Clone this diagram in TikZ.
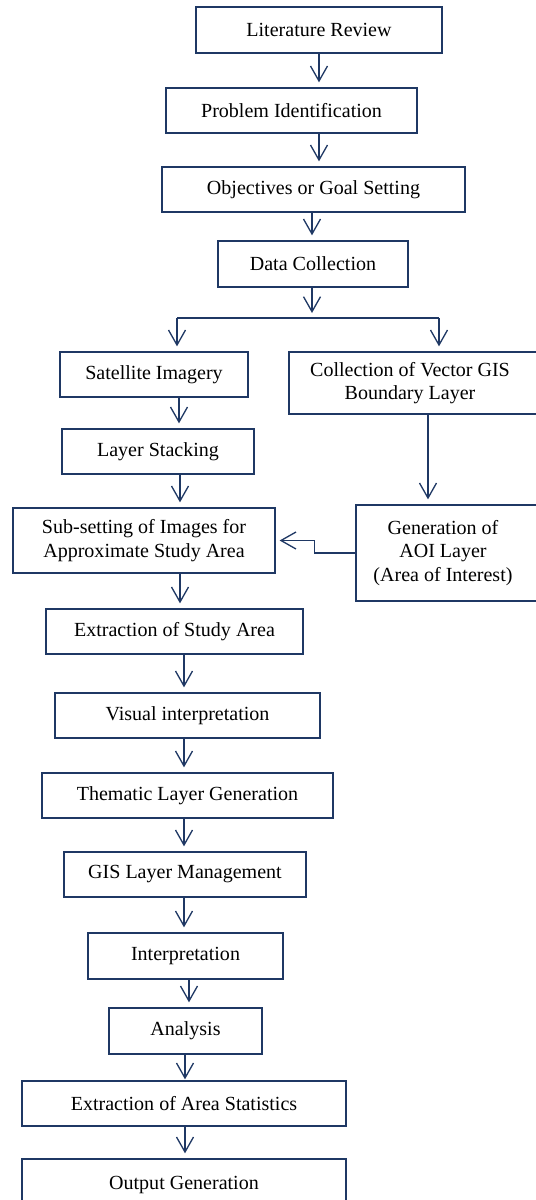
\documentclass[tikz,border=0pt]{standalone}
\usepackage{fontspec}
\setmainfont{Liberation Serif}
\usetikzlibrary{
    arrows.meta,
    positioning
}
\definecolor{flowblue}{RGB}{31,56,100}
\tikzset{
    process/.style = {
        rectangle,
        draw=flowblue,
        line width=0.75pt,
        inner sep=0pt,
        align=center,
        font=\fontsize{11.4}{13.3}\selectfont
    },
    wh/.style 2 args = {
        minimum width=#1*0.02cm,
        minimum height=#2*0.02cm
    },
    boxtext/.style = {
        inner sep=0pt,
        align=center,
        font=\fontsize{11.4}{13.3}\selectfont
    },
    connector/.style = {
        draw=flowblue,
        line width=0.75pt
    },
    arrow/.style = {
        connector,
        -{Straight Barb[length=0.3cm,width=0.34cm]},
        shorten >=0.1cm
    }
}

\begin{document}
\begin{tikzpicture}[x=0.02cm, y=-0.02cm]
\useasboundingbox (0,0) rectangle (536,1200);
\clip (0,0) rectangle (536,1200);

% main chain
\node[process, wh={246}{46}] (lit)    at (319,30)    {Literature Review};
\node[process, wh={251}{45}] (prob)   at (291.5,110.5) {Problem Identification};
\node[process, wh={303}{45}] (obj)    at (313.5,189.5) {Objectives or Goal Setting};
\node[process, wh={190}{46}] (data)   at (313,264)   {Data Collection};

% two branches (right boxes run off the page)
\node[process, wh={188}{45}] (sat)    at (154,374.5) {Satellite Imagery};
\node[process, wh={256}{62}] (vec)    at (417,383)   {};
\node[boxtext] (vectext) at (410,383) {Collection of Vector GIS\\Boundary Layer};
\node[process, wh={192}{45}] (stack)  at (158,451.5) {Layer Stacking};
\node[process, wh={262}{65}] (subset) at (144,540.5) {Sub-setting of Images for\\Approximate Study Area};
\node[process, wh={189}{96}] (aoi)    at (450.5,553) {};
\node[boxtext] (aoitext) at (443,553) {Generation of\\AOI Layer\\(Area of Interest)};

% after the merge
\node[process, wh={257}{45}] (extr)   at (174.5,631.5) {Extraction of Study Area};
\node[process, wh={265}{45}] (vis)    at (187.5,715.5) {Visual interpretation};
\node[process, wh={291}{45}] (them)   at (187.5,795.5) {Thematic Layer Generation};
\node[process, wh={242}{45}] (gis)    at (185,874.5) {GIS Layer Management};
\node[process, wh={195}{46}] (interp) at (185.5,956) {Interpretation};
\node[process, wh={153}{46}] (anal)   at (185.5,1031) {Analysis};
\node[process, wh={324}{45}] (stats)  at (184,1103.5) {Extraction of Area Statistics};
\node[process, wh={324}{51}] (out)    at (184,1184.5) {Output Generation};

% arrows
\draw[arrow] (319,0 |- lit.south)  -- (319,0 |- prob.north);
\draw[arrow] (319,0 |- prob.south) -- (319,0 |- obj.north);
\draw[arrow] (312,0 |- obj.south)  -- (312,0 |- data.north);

\coordinate (fork)  at (312,318);
\coordinate (forkL) at (177,318);
\coordinate (forkR) at (439,318);
\draw[arrow] (fork |- data.south) -- (fork);
\draw[connector] (forkL) -- (forkR);
\draw[arrow] (forkL) -- (forkL |- sat.north);
\draw[arrow] (forkR) -- (forkR |- vec.north);

\draw[arrow] (179,0 |- sat.south)   -- (179,0 |- stack.north);
\draw[arrow] (180,0 |- stack.south) -- (180,0 |- subset.north);
\draw[arrow] (428,0 |- vec.south)   -- (428,0 |- aoi.north);
\draw[arrow, shorten >=0.08cm] (aoi.west) -- ++(-41,0) |- (subset.east);

\draw[arrow] (180,0 |- subset.south) -- (180,0 |- extr.north);
\draw[arrow] (184,0 |- extr.south)   -- (184,0 |- vis.north);
\draw[arrow] (184,0 |- vis.south)    -- (184,0 |- them.north);
\draw[arrow] (184,0 |- them.south)   -- (184,0 |- gis.north);
\draw[arrow] (184,0 |- gis.south)    -- (184,0 |- interp.north);
\draw[arrow] (189,0 |- interp.south) -- (189,0 |- anal.north);
\draw[arrow, shorten >=0.02cm] (185,0 |- anal.south) -- (185,0 |- stats.north);
\draw[arrow] (185,0 |- stats.south)  -- (185,0 |- out.north);
\end{tikzpicture}
\end{document}
